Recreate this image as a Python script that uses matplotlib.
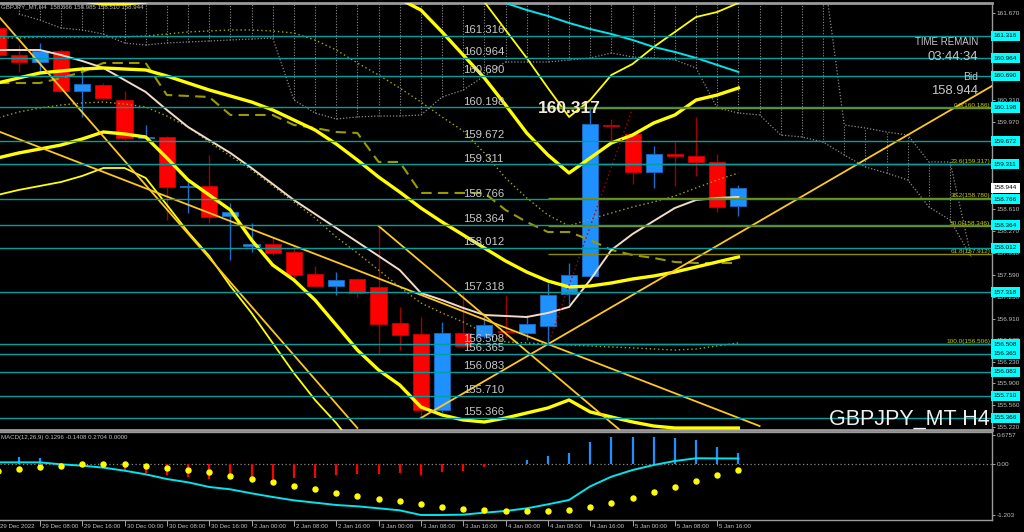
import numpy as np
import matplotlib
matplotlib.use("Agg")
import matplotlib.pyplot as plt

plt.rcParams["font.family"] = ["Liberation Sans", "DejaVu Sans"]

SYMBOL = "GBPJPY_MT"
TIMEFRAME = "H4"

# ---------------- data ----------------
OPEN = [161.436, 161.015, 160.906, 161.078, 160.455, 160.548, 160.314, 159.722, 159.738, 158.959,
        158.975, 158.505, 158.038, 158.068, 157.944, 157.604, 157.417, 157.526, 157.401, 156.839,
        156.667, 155.486, 156.683, 156.636, 156.705, 156.683, 156.792, 157.292, 157.573, 159.930,
        159.785, 159.188, 159.473, 159.447, 159.353, 158.666]
HIGH = [161.500, 161.171, 161.202, 161.109, 160.844, 160.579, 160.455, 159.925, 159.760, 159.070,
        159.458, 158.710, 158.396, 158.180, 158.053, 157.729, 157.635, 157.540, 158.349, 157.089,
        156.932, 156.854, 157.308, 156.996, 157.277, 156.964, 157.464, 157.773, 160.186, 160.020,
        159.800, 159.598, 159.660, 160.054, 159.473, 158.985]
LOW = [160.990, 160.751, 160.751, 160.440, 160.050, 160.314, 159.691, 159.700, 158.442, 158.552,
       158.396, 157.822, 157.944, 157.898, 157.511, 157.401, 157.277, 157.245, 156.371, 156.418,
       155.360, 155.450, 156.460, 156.600, 156.621, 156.574, 156.506, 157.136, 157.550, 159.660,
       159.006, 158.949, 158.980, 159.131, 158.575, 158.510]
CLOSE = [161.015, 160.906, 161.078, 160.455, 160.564, 160.346, 159.722, 159.738, 158.959, 158.975,
         158.489, 158.567, 158.068, 157.929, 157.589, 157.417, 157.511, 157.308, 156.823, 156.652,
         155.486, 156.683, 156.480, 156.808, 156.695, 156.823, 157.277, 157.589, 159.941, 159.910,
         159.188, 159.473, 159.442, 159.353, 158.653, 158.944]

BB_MID = [160.579, 160.657, 160.735, 160.766, 160.797, 160.813, 160.797, 160.782, 160.688, 160.579,
          160.470, 160.377, 160.283, 160.159, 160.003, 159.847, 159.629, 159.380, 159.115, 158.881,
          158.632, 158.414, 158.212, 158.009, 157.807, 157.635, 157.495, 157.402, 157.417, 157.464,
          157.526, 157.573, 157.635, 157.713, 157.791, 157.869]
BB_UP = [161.903, 161.934, 161.950, 161.903, 161.856, 161.810, 161.810, 161.841, 161.965, 162.090,
         162.106, 162.152, 162.433, 162.573, 162.495, 162.495, 162.448, 162.339, 162.121, 161.888,
         161.716, 161.374, 161.015, 160.657, 160.237, 159.800, 159.458, 159.177, 159.411, 159.645,
         159.769, 159.956, 160.081, 160.314, 160.392, 160.501]
BB_LOW = [159.411, 159.489, 159.551, 159.613, 159.707, 159.816, 159.785, 159.738, 159.411, 159.068,
          158.835, 158.601, 158.134, 157.744, 157.511, 157.199, 156.810, 156.420, 156.109, 155.875,
          155.533, 155.408, 155.330, 155.299, 155.361, 155.439, 155.517, 155.642, 155.455, 155.377,
          155.299, 155.236, 155.205, 155.205, 155.205, 155.205]
# outer bands, only where they fall inside the window
OUTER_UP_IDX = list(range(18, 36))
OUTER_UP = [162.807, 162.573, 162.417, 162.261, 162.028, 161.841, 161.405, 160.969, 160.501, 160.050,
            160.314, 160.704, 160.875, 161.140, 161.374, 161.607, 161.685, 161.825]
OUTER_LOW_IDX = list(range(0, 18))
OUTER_LOW = [158.835, 158.913, 158.975, 159.037, 159.131, 159.255, 159.255, 159.100, 158.679, 158.258,
             157.885, 157.417, 156.997, 156.529, 156.062, 155.642, 155.283, 154.863]

MA_PINK = [161.093, 161.093, 161.093, 161.015, 160.922, 160.813, 160.626, 160.439, 160.159, 159.894,
           159.691, 159.489, 159.255, 159.006, 158.757, 158.539, 158.321, 158.103, 157.885, 157.666,
           157.308, 157.199, 157.075, 156.965, 156.950, 156.934, 156.997, 157.090, 157.511, 157.978,
           158.227, 158.430, 158.632, 158.757, 158.788, 158.804]
KIJUN = [160.579, 160.579, 160.579, 160.657, 160.750, 160.891, 160.891, 160.891, 160.392, 160.377,
         160.361, 160.081, 160.081, 160.081, 159.925, 159.878, 159.816, 159.800, 159.349, 159.349,
         158.866, 158.866, 158.866, 158.866, 158.601, 158.414, 158.258, 158.258, 158.134, 157.978,
         157.900, 157.853, 157.791, 157.775, 157.775, 157.775]
ENV_UP = [161.280, 161.280, 161.296, 161.296, 161.296, 161.296, 161.296, 161.311, 161.342, 161.374,
          161.389, 161.405, 161.405, 161.389, 161.358, 161.249, 161.093, 160.891, 160.704, 160.501,
          160.283, 160.050, 159.832, 159.489, 159.100, 158.788, 158.523, 158.352, 158.461, 158.554,
          158.648, 158.726, 158.819, 158.944, 159.068, 159.177]
ENV_LOW = [160.034, 160.127, 160.190, 160.236, 160.268, 160.283, 160.252, 160.205, 160.065, 159.894,
           159.660, 159.442, 159.224, 158.975, 158.726, 158.476, 158.180, 157.931, 157.666, 157.401,
           157.152, 156.997, 156.856, 156.685, 156.545, 156.530, 156.514, 156.498, 156.483, 156.467,
           156.452, 156.436, 156.420, 156.436, 156.483, 156.530]
CYAN_IDX = list(range(23, 36))
CYAN_LINE = [161.934, 161.825, 161.716, 161.623, 161.514, 161.420, 161.342, 161.249, 161.140, 161.062,
             160.969, 160.860, 160.751]

# cloud spans, bars 1..46 (span A is above the window until bar 39)
CLOUD_IDX = list(range(1, 47))
SPAN_A = [np.nan] * 38 + [162.390, 159.925, 159.878, 159.816, 159.769, 159.349, 159.349, 157.869]
SPAN_B = [161.654, 161.560, 161.436, 161.405, 161.342, 161.202, 161.171, 161.202, 161.218, 161.233,
          161.249, 161.264, 161.280, 160.314, 160.112, 160.019, 160.050, 160.065, 160.065, 160.081,
          160.361, 160.470, 160.688, 160.906, 160.906, 160.906, 160.937, 160.969, 161.046, 160.984,
          160.969, 160.937, 160.813, 160.190, 160.112, 160.081, 159.769, 159.738, 159.660, 159.458,
          159.271, 159.177, 159.068, 158.648, 158.445, 157.869]

TRENDLINES = [((0, 161.638), (17, 155.205)),
              ((0, 159.832), (36, 155.236)),
              ((18, 158.352), (29.4, 155.174)),
              ((20, 155.361), (47, 160.537))]

LEVELS = [161.316, 160.964, 160.690, 160.198, 159.672, 159.311, 158.766, 158.364, 158.012,
          157.318, 156.508, 156.365, 156.083, 155.710, 155.366]
FIB_PCT = ["0.0", "23.6", "38.2", "50.0", "61.8", "100.0"]
FIB_PRICE = [160.186, 159.317, 158.780, 158.346, 157.912, 156.506]
FIB_ANCHOR = ((26, 156.506), (30, 160.186))

PRICE_TICKS = [161.670, 161.330, 160.990, 160.650, 160.310, 159.970, 159.630, 159.290, 158.950,
               158.610, 158.270, 157.930, 157.590, 157.250, 156.910, 156.570, 156.230, 155.900,
               155.560, 155.220]
BID = 158.944
HIGH_MARK = 160.317

MACD_LINE = [0.039, 0.039, 0.039, -0.008, -0.039, -0.086, -0.157, -0.244, -0.354, -0.432,
             -0.542, -0.597, -0.692, -0.778, -0.857, -0.912, -0.967, -0.998, -1.045, -1.093,
             -1.203, -1.203, -1.195, -1.148, -1.108, -1.046, -0.951, -0.849, -0.527, -0.299,
             -0.142, -0.024, 0.071, 0.135, 0.132, 0.1296]
MACD_SIGNAL = [-0.170, -0.126, -0.071, -0.039, -0.008, -0.008, -0.008, -0.047, -0.086, -0.134,
               -0.189, -0.275, -0.346, -0.425, -0.519, -0.597, -0.676, -0.755, -0.818, -0.881,
               -0.943, -1.006, -1.053, -1.085, -1.101, -1.116, -1.101, -1.085, -1.022, -0.912,
               -0.802, -0.660, -0.535, -0.393, -0.267, -0.1408]
MACD_HIST = [0.15, 0.17, 0.13, 0.02, -0.02, -0.07, -0.16, -0.22, -0.27, -0.31,
             -0.35, -0.34, -0.35, -0.35, -0.34, -0.34, -0.27, -0.24, -0.24, -0.22,
             -0.27, -0.20, -0.16, -0.06, -0.01, 0.09, 0.18, 0.26, 0.51, 0.645,
             0.645, 0.645, 0.61, 0.56, 0.41, 0.27]

TIME_LABELS = ["29 Dec 2022", "29 Dec 08:00", "29 Dec 16:00", "30 Dec 00:00", "30 Dec 08:00",
               "30 Dec 16:00", "2 Jan 00:00", "2 Jan 08:00", "2 Jan 16:00", "3 Jan 00:00",
               "3 Jan 08:00", "3 Jan 16:00", "4 Jan 00:00", "4 Jan 08:00", "4 Jan 16:00",
               "5 Jan 00:00", "5 Jan 08:00", "5 Jan 16:00"]

# ---------------- style ----------------
TXT = "#C0C0C0"
FRAME = "#9A9A9A"
W, H = 1024, 532

fig = plt.figure(figsize=(W / 100, H / 100), dpi=100, facecolor="black")
ax = fig.add_axes([0, 1 - 430 / H, 992 / W, 427 / H])
ax2 = fig.add_axes([0, 1 - 520 / H, 992 / W, 88 / H])

XLIM = (0.118, 46.98)
for a in (ax, ax2):
    a.set_facecolor("black")
    a.set_xlim(*XLIM)
    a.spines["left"].set_visible(False)
    for s in ("top", "bottom", "right"):
        a.spines[s].set_color(FRAME)
        a.spines[s].set_linewidth(1.0)
ax.spines["top"].set_linewidth(2.0)
ax.spines["bottom"].set_linewidth(2.0)
ax.set_ylim(155.174, 161.825)
ax2.set_ylim(-1.321, 0.755)

idx = np.arange(len(OPEN))

# ---- ichimoku cloud (gray dotted) ----
cidx = np.array(CLOUD_IDX)
span_a = np.array(SPAN_A)
span_b = np.array(SPAN_B)
top_a = np.where(np.isnan(span_a), 163.0, span_a)
ax.vlines(cidx, span_b, top_a, colors="#8A8A8A", linestyles=(0, (1, 1.5)), lw=0.8, zorder=1)
ax.plot(cidx, span_b, color="#8A8A8A", ls=(0, (1, 1.5)), lw=0.9, zorder=1)
ax.plot(cidx, span_a, color="#8A8A8A", ls=(0, (1, 1.5)), lw=0.9, zorder=1)

# ---- candles ----
for i, o, h, l, c in zip(idx, OPEN, HIGH, LOW, CLOSE):
    up = c >= o
    face = "#1E90FF" if up else "#FF0000"
    edge = "#1868B8" if up else "#C00000"
    wick = "#1E6EC8" if up else "#A00000"
    ax.vlines(i, l, h, color=wick, lw=1.0, zorder=2)
    ax.bar(i, max(abs(c - o), 0.02), bottom=min(o, c), width=0.76, color=face,
           edgecolor=edge, lw=0.7, zorder=2.2)

# ---- indicators ----
ax.plot(idx, ENV_UP, color="#A8A800", ls=(0, (1, 2)), lw=1.0, zorder=3)
ax.plot(idx, ENV_LOW, color="#A8A800", ls=(0, (1, 2)), lw=1.0, zorder=3)
ax.plot(idx, KIJUN, color="#9A9A00", ls=(0, (5, 3)), lw=1.5, zorder=3)
ax.plot(idx, MA_PINK, color="#F2DCC8", lw=1.4, zorder=3)
ax.plot(OUTER_UP_IDX, OUTER_UP, color="#FFFF00", lw=1.3, zorder=3)
ax.plot(OUTER_LOW_IDX, OUTER_LOW, color="#FFFF00", lw=1.3, zorder=3)
for band in (BB_MID, BB_UP, BB_LOW):
    ax.plot(idx, band, color="#FFFF00", lw=2.4, zorder=3.1)
ax.plot(CYAN_IDX, CYAN_LINE, color="#00E5EE", lw=1.4, zorder=3)

# ---- objects ----
for (x0, y0), (x1, y1) in TRENDLINES:
    ax.plot([x0, x1], [y0, y1], color="#FFC81E", lw=1.3, zorder=4)

(fx0, fy0), (fx1, fy1) = FIB_ANCHOR
ax.plot([fx0, fx1], [fy0, fy1], color="#B00000", ls=(0, (1, 2)), lw=1.0, zorder=4)
ax.hlines(FIB_PRICE, fx0, XLIM[1], colors="#8C8C00", lw=1.0, zorder=4)
for pct, p in zip(FIB_PCT, FIB_PRICE):
    ax.text(0.998, p, f"{pct}({p:.3f})", transform=ax.get_yaxis_transform(), ha="right",
            va="bottom", fontsize=4.6, color="#C8C800", zorder=6)

lab_x = (463 + 2.5) / 21.17
for lv in LEVELS:
    ax.axhline(lv, color="#00A0A0", lw=1.0, zorder=4.2)
    ax.annotate(f"{lv:.3f}", xy=(lab_x, lv), xytext=(0, 0.6), textcoords="offset points",
                ha="left", va="bottom", fontsize=8.2, color="#C8C8C8", zorder=6)

# high marker sits on the top of the spike candle
ax.text(27.0, HIGH[28], f"{HIGH_MARK:.3f}", ha="center", va="center", fontsize=12.5,
        fontweight="bold", color="#F3EADA", zorder=7)

# ---- right price scale ----
ax.yaxis.tick_right()
ax.set_yticks(PRICE_TICKS)
ax.set_yticklabels([f"{t:.3f}" for t in PRICE_TICKS])
ax.tick_params(axis="y", colors=TXT, labelsize=4.6, length=2.5, width=0.6, pad=1)
ax.tick_params(axis="x", bottom=False, labelbottom=False)
for lv in LEVELS:
    ax.text(1.002, lv, f"{lv:.3f}", transform=ax.get_yaxis_transform(), ha="left", va="center",
            fontsize=4.6, color="black", zorder=10, clip_on=False,
            bbox=dict(boxstyle="square,pad=0.4", fc="#00FFFF", ec="none"))
ax.text(1.002, BID, f"{BID:.3f}", transform=ax.get_yaxis_transform(), ha="left", va="center",
        fontsize=4.6, color="black", zorder=10, clip_on=False,
        bbox=dict(boxstyle="square,pad=0.4", fc="white", ec="none"))

# ---- MACD panel ----
ax2.axhline(0, color="#8A8A8A", ls=(0, (1, 2)), lw=0.9, zorder=1)
hist_col = ["#1E90FF" if v >= 0 else "#FF0000" for v in MACD_HIST]
ax2.vlines(idx, 0, MACD_HIST, colors=hist_col, lw=1.6, zorder=2)
ax2.plot(idx, MACD_LINE, color="#00E5EE", lw=1.4, zorder=3)
ax2.plot(idx, MACD_SIGNAL, ls="none", marker="o", ms=3.6, color="#FFFF00", zorder=4)
ax2.yaxis.tick_right()
ax2.set_yticks([0.6757, 0.0, -1.203])
ax2.set_yticklabels(["0.6757", "0.00", "-1.203"])
ax2.tick_params(axis="y", colors=TXT, labelsize=4.6, length=2.5, width=0.6, pad=1)
tick_pos = np.arange(0, 36, 2)
ax2.set_xticks(tick_pos[1:])
ax2.set_xticklabels([])
ax2.tick_params(axis="x", colors=TXT, length=4, width=0.6, direction="out")
for pos, lab in zip(tick_pos, TIME_LABELS):
    ax2.text(pos + 0.1, -0.04, lab, transform=ax2.get_xaxis_transform(), ha="left", va="top",
             fontsize=4.4, color=TXT, clip_on=False)

# ---- overlay texts ----
def ftext(x, y, s, **kw):
    fig.text(x / W, 1 - y / H, s, **kw)

ftext(1, 7, f"{SYMBOL},{TIMEFRAME}  {OPEN[-1]:.3f} {HIGH[-1]:.3f} {LOW[-1]:.3f} {CLOSE[-1]:.3f}",
      fontsize=4.4, color=TXT, va="center", ha="left")
ftext(1, 437, "MACD(12,26,9) 0.1296 -0.1408 0.2704 0.0000", fontsize=4.4, color=TXT,
      va="center", ha="left")
ftext(978, 42, "TIME REMAIN", fontsize=7, color="#C8C8C8", va="center", ha="right")
ftext(978, 57, "03:44:34", fontsize=9.4, color="#C8C8C8", va="center", ha="right")
ftext(978, 77, "Bid", fontsize=7.5, color="#C8C8C8", va="center", ha="right")
ftext(978, 91, f"{BID:.3f}", fontsize=9.4, color="#C8C8C8", va="center", ha="right")
ftext(990, 425, f"{SYMBOL} {TIMEFRAME}", fontsize=15.5, color="#F0F0F0", va="baseline",
      ha="right")

fig.savefig("out.png", dpi=100, facecolor="black")
